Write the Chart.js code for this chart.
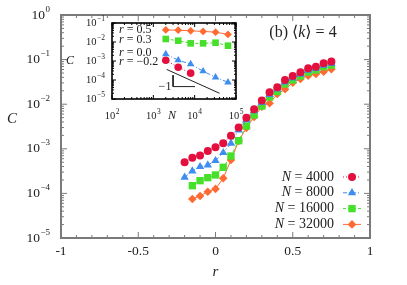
<!DOCTYPE html>
<html>
<head>
<meta charset="utf-8">
<script src="https://cdn.jsdelivr.net/npm/chart.js@4.4.0/dist/chart.umd.min.js"></script>
<style>
html, body { margin: 0; padding: 0; background: #fff; }
#wrap { position: relative; width: 407px; height: 285px; }
#wrap canvas { position: absolute; left: 0; top: 0; }
</style>
</head>
<body>
<div id="wrap">
  <canvas id="main" width="407" height="285" style="width:407px;height:285px"></canvas>
  <canvas id="inset" width="407" height="285" style="width:407px;height:285px"></canvas>
</div>
<script>
// --- datos del panel principal (C frente a r) ---
const r20 = [-0.2, -0.15, -0.1, -0.05, 0, 0.05, 0.1, 0.15, 0.2, 0.25, 0.3, 0.35, 0.4, 0.45, 0.5, 0.55, 0.6, 0.65, 0.7, 0.75];
const r19 = [-0.15, -0.1, -0.05, 0, 0.05, 0.1, 0.15, 0.2, 0.25, 0.3, 0.35, 0.4, 0.45, 0.5, 0.55, 0.6, 0.65, 0.7, 0.75];
const c4000 = [5.0e-4, 6.3e-4, 7.1e-4, 8.9e-4, 1.08e-3, 1.33e-3, 1.97e-3, 3.0e-3, 5.0e-3, 7.7e-3, 1.21e-2, 1.85e-2, 2.4e-2, 3.5e-2, 4.3e-2, 5.2e-2, 6.4e-2, 6.9e-2, 8.3e-2, 9.1e-2];
const c8000 = [2.3e-4, 3.18e-4, 3.97e-4, 4.33e-4, 5.41e-4, 8.18e-4, 1.33e-3, 2.64e-3, 4.43e-3, 7.05e-3, 1.09e-2, 1.65e-2, 2.19e-2, 3.15e-2, 3.87e-2, 4.68e-2, 5.75e-2, 6.25e-2, 7.45e-2, 8.18e-2];
const c16000 = [1.49e-4, 1.93e-4, 2.25e-4, 2.59e-4, 3.85e-4, 6.9e-4, 1.52e-3, 3.25e-3, 5.72e-3, 9.1e-3, 1.45e-2, 1.93e-2, 2.84e-2, 3.49e-2, 4.29e-2, 5.27e-2, 5.85e-2, 6.93e-2, 7.56e-2];
const c32000 = [7.49e-5, 8.74e-5, 1.09e-4, 1.26e-4, 2.18e-4, 5.61e-4, 1.5e-3, 2.92e-3, 5.16e-3, 8.79e-3, 1.05e-2, 1.69e-2, 2.16e-2, 3.03e-2, 3.67e-2, 4.36e-2, 4.75e-2, 5.36e-2, 6.06e-2];
const seriesLabels = ['4000', '8000', '16000', '32000'];
const xTickLabels = ['-1', '-0.5', '0', '0.5', '1'];
const xTickValues = [-1, -0.5, 0, 0.5, 1];
const yTickExps = [0, -1, -2, -3, -4, -5];

// --- datos del recuadro (C frente a N) ---
const nInset = [2000, 4000, 8000, 16000, 32000, 64000];
const cR05 = [0.043, 0.042, 0.039, 0.036, 0.033, 0.025];
const cR03 = [0.0144, 0.0117, 0.0085, 0.0085, 0.0092, 0.0064];
const cR00 = [2.3e-3, 1.1e-3, 6.9e-4, 2.9e-4, 1.4e-4, 7.6e-5];
const cRm02 = [1.1e-3, 4.7e-4, 2.3e-4];
const insetLabels = ['0.5', '0.3', '0.0', '\u22120.2'];
const slopeN = [2100, 40000];
const slopeC = [3.6e-4, 2.0e-5];
const triN = [3000, 3000, 10200];
const triC = [1.8e-4, 4.5e-5, 4.5e-5];
const insetXExps = [2, 3, 4, 5];
const insetYExps = [-1, -2, -3, -4, -5];

const RED = '#e3103f', BLUE = '#3d8ef0', GREEN = '#46e02a', ORANGE = '#ff6a33';
const SERIF = '"Liberation Serif", "DejaVu Serif", serif';

const pts = (xs, ys) => ys.map((y, i) => ({ x: xs[i], y }));

const styles = [
    { color: RED, pointStyle: 'circle', radius: 4, dash: [1, 2] },
    { color: BLUE, pointStyle: 'triangle', radius: 4.8, dash: [4, 2, 1, 2] },
    { color: GREEN, pointStyle: 'rect', radius: 5.2, dash: [3, 2] },
    { color: ORANGE, pointStyle: 'rectRot', radius: 4.3, dash: [] }
];

const mkSet = (data, st, scale = 1) => ({
    data,
    borderColor: st.color,
    borderWidth: 1,
    borderDash: st.dash,
    backgroundColor: st.color,
    pointBackgroundColor: st.color,
    pointBorderWidth: 0,
    pointStyle: st.pointStyle,
    pointRadius: st.radius * scale,
    tension: 0,
    fill: false
});

// dibuja 10^exp
const pow10 = (ctx, x, y, exp, base, sup, align) => {
    const e = exp < 0 ? '\u2212' + (-exp) : String(exp);
    ctx.font = `${base}px ${SERIF}`;
    const wb = ctx.measureText('10').width;
    ctx.font = `${sup}px ${SERIF}`;
    const we = ctx.measureText(e).width;
    const total = wb + we + 0.5;
    const x0 = align === 'right' ? x - total : align === 'center' ? x - total / 2 : x;
    ctx.textAlign = 'left';
    ctx.textBaseline = 'middle';
    ctx.font = `${base}px ${SERIF}`;
    ctx.fillText('10', x0, y);
    ctx.font = `${sup}px ${SERIF}`;
    ctx.fillText(e, x0 + wb + 0.5, y - base * 0.42);
};

// texto con partes en cursiva: [[texto, italic], ...]
const mixed = (ctx, parts, x, y, size, align) => {
    const w = parts.map(([t, it]) => { ctx.font = `${it ? 'italic ' : ''}${size}px ${SERIF}`; return ctx.measureText(t).width; });
    const total = w.reduce((a, b) => a + b, 0);
    let cx = align === 'right' ? x - total : align === 'center' ? x - total / 2 : x;
    ctx.textAlign = 'left';
    ctx.textBaseline = 'middle';
    parts.forEach(([t, it], i) => {
        ctx.font = `${it ? 'italic ' : ''}${size}px ${SERIF}`;
        ctx.fillText(t, cx, y);
        cx += w[i];
    });
};

const logTicks = (ctx, scale, lo, hi, fixed0, fixed1, dir, major, minor, vertical) => {
    for (let e = lo; e <= hi; e++) {
        for (let m = 1; m <= 9; m++) {
            const v = m * Math.pow(10, e);
            if (e === hi && m > 1) break;
            const p = scale.getPixelForValue(v);
            const len = m === 1 ? major : minor;
            ctx.beginPath();
            if (vertical) {
                ctx.moveTo(fixed0, p); ctx.lineTo(fixed0 + len, p);
                ctx.moveTo(fixed1, p); ctx.lineTo(fixed1 - len, p);
            } else {
                ctx.moveTo(p, fixed0); ctx.lineTo(p, fixed0 - len);
                ctx.moveTo(p, fixed1); ctx.lineTo(p, fixed1 + len);
            }
            ctx.stroke();
        }
    }
};

const mainDecor = {
    id: 'mainDecor',
    afterDraw(chart) {
        const { ctx, chartArea: a, scales: { x, y } } = chart;
        ctx.save();
        ctx.strokeStyle = '#7a7a7a';
        ctx.lineWidth = 1;
        // ticks eje x cada 0.1
        for (let i = -10; i <= 10; i++) {
            const p = x.getPixelForValue(i / 10);
            const len = i % 5 === 0 ? 6 : 3;
            ctx.beginPath();
            ctx.moveTo(p, a.bottom); ctx.lineTo(p, a.bottom - len);
            ctx.moveTo(p, a.top); ctx.lineTo(p, a.top + len);
            ctx.stroke();
        }
        logTicks(ctx, y, -5, 0, a.left, a.right, 0, 6, 3, true);
        ctx.lineWidth = 2;
        ctx.strokeRect(a.left, a.top, a.right - a.left, a.bottom - a.top);

        ctx.fillStyle = '#222';
        yTickExps.forEach(e => pow10(ctx, a.left - 11, y.getPixelForValue(Math.pow(10, e)), e, 13.5, 9, 'right'));
        ctx.font = `13.5px ${SERIF}`;
        ctx.textAlign = 'center';
        ctx.textBaseline = 'middle';
        xTickValues.forEach((v, i) => ctx.fillText(xTickLabels[i], x.getPixelForValue(v), 251));
        ctx.font = `italic 15px ${SERIF}`;
        ctx.fillText('r', (a.left + a.right) / 2, 272);
        ctx.fillText('C', 12, 119);

        mixed(ctx, [['(b) \u27E8', false], ['k', true], ['\u27E9 = 4', false]], 303, 33, 16, 'center');

        // leyenda
        chart.data.datasets.forEach((ds, i) => {
            const ly = 177 + i * 15.8;
            ctx.fillStyle = '#222';
            mixed(ctx, [['N', true], [' = ' + seriesLabels[i], false]], 334, ly, 14, 'right');
            ctx.strokeStyle = ds.borderColor;
            ctx.lineWidth = 1;
            ctx.setLineDash(ds.borderDash);
            ctx.beginPath(); ctx.moveTo(343, ly); ctx.lineTo(361, ly); ctx.stroke();
            ctx.setLineDash([]);
            ctx.fillStyle = ds.pointBackgroundColor;
            Chart.helpers.drawPoint(ctx, { pointStyle: ds.pointStyle, radius: ds.pointRadius, rotation: 0, borderWidth: 0 }, 352, ly);
        });
        ctx.restore();
    }
};

new Chart(document.getElementById('main'), {
    type: 'line',
    data: {
        datasets: [
            mkSet(pts(r20, c4000), styles[0]),
            mkSet(pts(r20, c8000), styles[1]),
            mkSet(pts(r19, c16000), styles[2]),
            mkSet(pts(r19, c32000), styles[3])
        ]
    },
    options: {
        responsive: false,
        animation: false,
        devicePixelRatio: 1,
        layout: { padding: { left: 0, right: 37, top: 15, bottom: 0 } },
        plugins: { legend: { display: false }, tooltip: { enabled: false } },
        scales: {
            x: { type: 'linear', min: -1, max: 1, grid: { display: false }, border: { display: false }, ticks: { display: false }, afterFit: s => { s.height = 47; } },
            y: { type: 'logarithmic', min: 1e-5, max: 1, grid: { display: false }, border: { display: false }, ticks: { display: false }, afterFit: s => { s.width = 61; } }
        }
    },
    plugins: [mainDecor]
});

const insetBg = {
    id: 'insetBg',
    beforeDatasetsDraw(chart) {
        const { ctx, chartArea: a } = chart;
        ctx.save();
        ctx.fillStyle = '#fff';
        ctx.fillRect(a.left, a.top, a.right - a.left, a.bottom - a.top);
        ctx.restore();
    },
    afterDraw(chart) {
        const { ctx, chartArea: a, scales: { x, y } } = chart;
        ctx.save();
        ctx.strokeStyle = '#000';
        ctx.lineWidth = 1;
        logTicks(ctx, y, -5, -1, a.left, a.right, 0, 4, 2, true);
        logTicks(ctx, x, 2, 5, a.bottom, a.top, 0, 4, 2, false);
        ctx.lineWidth = 1.6;
        ctx.strokeRect(a.left, a.top, a.right - a.left, a.bottom - a.top);

        ctx.fillStyle = '#222';
        insetYExps.forEach(e => pow10(ctx, a.left - 7, y.getPixelForValue(Math.pow(10, e)), e, 10.5, 7.5, 'right'));
        insetXExps.forEach(e => pow10(ctx, x.getPixelForValue(Math.pow(10, e)), 116, e, 10.5, 7.5, 'center'));
        ctx.font = `italic 12px ${SERIF}`;
        ctx.textAlign = 'center';
        ctx.textBaseline = 'middle';
        ctx.fillText('C', 70, 61);
        ctx.fillText('N', 172, 116);

        const ys = [30, 39.5, 52.5, 62];
        insetLabels.forEach((t, i) => mixed(ctx, [['r', true], [' = ' + t, false]], 119, ys[i], 12, 'left'));
        mixed(ctx, [['\u22121', false]], 165, 87, 12, 'center');
        ctx.restore();
    }
};

new Chart(document.getElementById('inset'), {
    type: 'line',
    data: {
        datasets: [
            mkSet(pts(nInset, cR05), styles[3], 0.9),
            mkSet(pts(nInset, cR03), styles[2], 0.9),
            mkSet(pts(nInset, cR00), styles[1], 0.9),
            mkSet(pts(nInset, cRm02), styles[0], 0.95),
            { data: pts(slopeN, slopeC), borderColor: '#222', borderWidth: 1, pointRadius: 0, fill: false },
            { data: pts(triN, triC), borderColor: '#222', borderWidth: 1, pointRadius: 0, fill: false }
        ]
    },
    options: {
        responsive: false,
        animation: false,
        devicePixelRatio: 1,
        layout: { padding: { left: 112, right: 171, top: 23, bottom: 186 } },
        plugins: { legend: { display: false }, tooltip: { enabled: false } },
        scales: {
            x: { type: 'logarithmic', min: 100, max: 1e5, grid: { display: false }, border: { display: false }, ticks: { display: false }, afterFit: s => { s.height = 0; } },
            y: { type: 'logarithmic', min: 1e-5, max: 1e-1, grid: { display: false }, border: { display: false }, ticks: { display: false }, afterFit: s => { s.width = 0; } }
        }
    },
    plugins: [insetBg]
});
</script>
</body>
</html>
